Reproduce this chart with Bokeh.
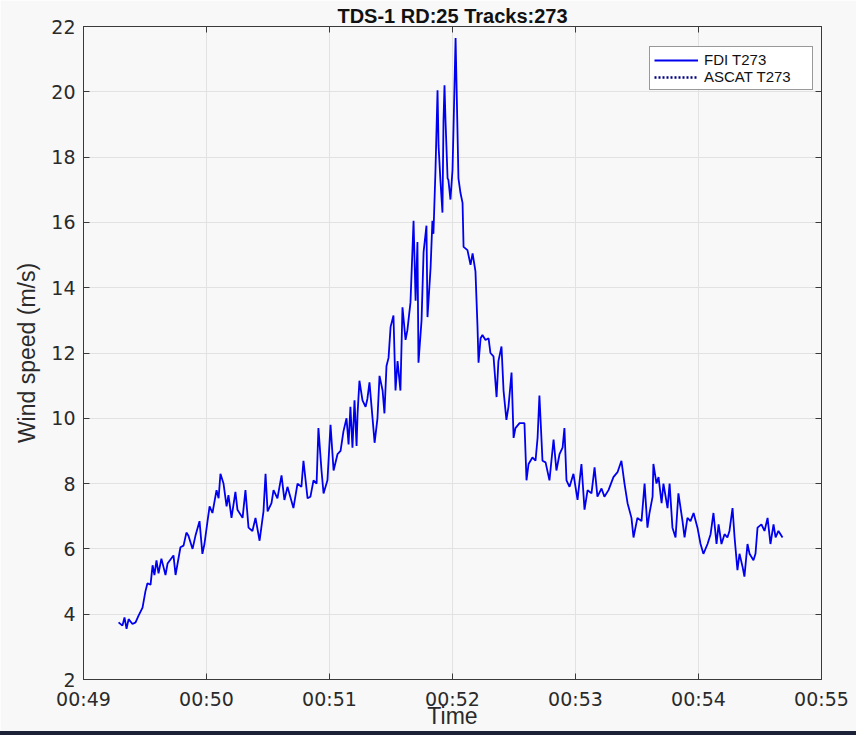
from bokeh.plotting import figure
from bokeh.models import (ColumnDataSource, Legend, LegendItem, LinearAxis,
                          FixedTicker, Range1d, Div)
from bokeh.layouts import column
from bokeh.embed import file_html
from bokeh.resources import INLINE

# ---- data (seconds after 00:49:00, wind speed m/s) ----
time_s = [17.1, 19.0, 20.0, 21.0, 22.0, 23.9, 25.4, 26.8, 28.8, 30.2,
          31.2, 32.7, 33.7, 34.6, 35.6, 36.6, 38.0, 39.0, 40.0, 41.0,
          43.9, 44.9, 47.3, 48.8, 50.2, 51.2, 53.2, 54.6, 56.6, 58.0,
          59.0, 60.5, 61.5, 62.9, 64.9, 65.9, 66.8, 68.3, 69.8, 70.7,
          72.2, 74.1, 75.1, 77.6, 79.0, 80.5, 82.4, 83.9, 85.9, 87.8,
          88.8, 89.8, 91.7, 92.7, 94.6, 96.6, 98.0, 99.5, 102.4, 104.4,
          106.3, 107.3, 109.3, 110.7, 112.2, 113.7, 114.6, 116.1, 117.1, 119.0,
          120.5, 122.0, 123.9, 125.4, 126.8, 128.3, 129.3, 130.2, 131.2, 132.2,
          133.2, 133.7, 134.6, 136.1, 137.6, 138.5, 139.5, 141.0, 142.0, 143.4,
          144.4, 145.9, 146.8, 147.8, 148.8, 149.8, 151.2, 152.2, 153.2, 154.6,
          155.6, 157.1, 158.0, 159.5, 161.0, 162.0, 162.9, 163.4, 164.9, 165.9,
          167.3, 167.8, 169.3, 170.2, 170.7, 171.7, 172.7, 173.2, 174.1, 175.1,
          175.6, 176.1, 176.6, 177.6, 178.0, 179.0, 180.0, 180.5, 181.5, 182.4,
          182.9, 183.9, 184.9, 185.4, 187.3, 188.8, 189.8, 191.2, 192.2, 192.7,
          193.7, 194.6, 196.1, 197.6, 198.5, 200.0, 201.5, 202.4, 203.9, 204.9,
          206.3, 207.3, 208.8, 209.8, 210.7, 212.7, 215.1, 216.1, 217.1, 219.0,
          220.5, 221.5, 222.4, 223.9, 225.4, 227.3, 229.3, 230.7, 232.2, 233.7,
          234.6, 235.6, 237.1, 239.0, 241.0, 242.9, 244.4, 245.9, 247.8, 249.3,
          250.7, 252.7, 254.1, 256.1, 258.5, 260.5, 262.4, 263.9, 265.4, 267.3,
          268.3, 270.2, 272.2, 273.7, 275.1, 276.1, 277.6, 278.0, 279.5, 280.5,
          282.0, 282.9, 284.9, 285.9, 287.3, 288.8, 290.2, 292.2, 293.2, 294.6,
          296.1, 297.6, 299.5, 301.0, 302.4, 304.4, 305.9, 307.3, 308.8, 309.8,
          311.2, 312.7, 314.1, 315.1, 316.6, 317.6, 319.0, 320.0, 321.5, 322.4,
          323.9, 324.9, 326.8, 327.8, 328.8, 330.7, 332.2, 333.7, 335.1, 336.6,
          337.6, 339.0, 341.0]

fdi_speed = [3.75, 3.65, 3.9, 3.55, 3.85, 3.7, 3.75, 3.95, 4.2, 4.7,
             4.95, 4.9, 5.5, 5.2, 5.65, 5.25, 5.7, 5.45, 5.2, 5.55,
             5.8, 5.2, 6.05, 6.1, 6.5, 6.4, 6.0, 6.4, 6.85, 5.85,
             6.15, 6.85, 7.3, 7.1, 7.8, 7.55, 8.3, 8.0, 7.3, 7.65,
             6.95, 7.75, 7.2, 6.95, 7.8, 6.65, 6.55, 6.95, 6.25, 7.15,
             8.3, 7.15, 7.4, 7.8, 7.55, 8.25, 7.5, 7.9, 7.25, 8.0,
             7.9, 8.7, 7.55, 7.6, 8.1, 8.0, 9.7, 8.4, 7.7, 8.1,
             9.8, 8.4, 8.9, 9.0, 9.6, 10.0, 9.2, 10.35, 9.1, 10.55,
             9.15, 10.15, 11.15, 10.55, 10.35, 10.6, 11.1, 10.0, 9.25, 10.0,
             11.3, 10.85, 10.15, 11.6, 11.85, 12.8, 13.15, 10.85, 11.75, 10.85,
             13.4, 12.4, 12.7, 13.55, 16.05, 13.6, 15.4, 11.7, 13.0, 15.1,
             15.9, 13.1, 14.6, 16.05, 15.65, 17.6, 20.05, 18.35, 17.3, 16.3,
             19.1, 20.2, 19.1, 17.35, 17.3, 16.7, 17.6, 18.9, 21.65, 18.9,
             17.35, 16.9, 16.6, 15.25, 15.15, 14.7, 15.05, 14.5, 12.8, 11.7,
             12.45, 12.55, 12.4, 12.45, 12.0, 11.9, 10.65, 11.75, 12.2, 10.85,
             9.95, 10.35, 11.4, 9.4, 9.7, 9.85, 9.85, 8.1, 8.6, 8.8,
             8.7, 9.4, 10.7, 8.7, 8.65, 8.1, 9.35, 8.4, 8.9, 9.1,
             9.7, 8.1, 7.9, 8.3, 7.5, 8.6, 7.2, 7.8, 7.7, 8.5,
             7.6, 7.85, 7.6, 7.8, 8.2, 8.35, 8.7, 8.0, 7.4, 6.95,
             6.35, 6.95, 6.85, 8.0, 6.65, 7.1, 7.6, 8.6, 8.0, 8.2,
             7.4, 8.0, 7.25, 8.0, 6.65, 6.35, 7.7, 6.85, 6.35, 6.95,
             6.85, 7.1, 6.65, 6.15, 5.85, 6.15, 6.45, 7.1, 6.15, 6.75,
             6.15, 6.45, 6.35, 6.55, 7.25, 6.35, 5.35, 5.85, 5.45, 5.15,
             6.15, 5.85, 5.65, 5.85, 6.65, 6.75, 6.55, 6.95, 6.15, 6.75,
             6.35, 6.55, 6.35]

# ASCAT series has no samples visible in this window
ascat_time = [float("nan")]
ascat_speed = [float("nan")]

x_ticks = [0, 60, 120, 180, 240, 300, 360]
x_tick_labels = ["00:49", "00:50", "00:51", "00:52", "00:53", "00:54", "00:55"]
y_ticks = [2, 4, 6, 8, 10, 12, 14, 16, 18, 20, 22]

title_text = "TDS-1 RD:25 Tracks:273"
series_labels = ["FDI T273", "ASCAT T273"]

BG = "#f8f8f8"
AX = "#3a3a3a"
TICK_FONT = "DejaVu Sans"
LABEL_FONT = "Liberation Sans"

p = figure(width=856, height=731, x_range=Range1d(0, 360), y_range=Range1d(2, 22),
           output_backend="svg", toolbar_location=None,
           min_border_left=83, min_border_right=35, min_border_top=26,
           min_border_bottom=52, background_fill_color=BG, border_fill_color=BG,
           outline_line_color=AX, outline_line_width=1)

p.title.text = title_text
p.title.align = "center"
p.title.text_font = LABEL_FONT
p.title.text_font_size = "20px"
p.title.text_font_style = "bold"
p.title.text_color = "#111111"
p.title.standoff = 0
p.title.offset = 0

def style_axis(ax, show_labels=True):
    ax.major_tick_in = 6
    ax.major_tick_out = 0
    ax.minor_tick_line_color = None
    ax.axis_line_color = AX
    ax.major_tick_line_color = AX
    if show_labels:
        ax.major_label_text_font = TICK_FONT
        ax.major_label_text_font_size = "19px"
        ax.major_label_text_color = "#2a2a2a"
        ax.major_label_standoff = 7
    else:
        ax.major_label_text_font_size = "1px"
        ax.major_label_text_color = None
        ax.major_label_standoff = 0

xax = p.xaxis[0]
xax.ticker = FixedTicker(ticks=x_ticks)
xax.major_label_overrides = {t: l for t, l in zip(x_ticks, x_tick_labels)}
style_axis(xax)
xax.major_label_standoff = 8
xax.axis_label = "Time"
xax.axis_label_text_font = LABEL_FONT
xax.axis_label_text_font_size = "23px"
xax.axis_label_text_font_style = "normal"
xax.axis_label_text_color = "#2a2a2a"
xax.axis_label_standoff = -10

yax = p.yaxis[0]
yax.ticker = FixedTicker(ticks=y_ticks)
style_axis(yax)
yax.major_label_standoff = 8
yax.axis_label = "Wind speed (m/s)"
yax.axis_label_text_font = LABEL_FONT
yax.axis_label_text_font_size = "23px"
yax.axis_label_text_font_style = "normal"
yax.axis_label_text_color = "#2a2a2a"
yax.axis_label_standoff = 8

top = LinearAxis(ticker=FixedTicker(ticks=x_ticks))
style_axis(top, show_labels=False)
p.add_layout(top, "above")
right = LinearAxis(ticker=FixedTicker(ticks=y_ticks))
style_axis(right, show_labels=False)
p.add_layout(right, "right")

p.xgrid.ticker = FixedTicker(ticks=x_ticks)
p.ygrid.ticker = FixedTicker(ticks=y_ticks)
p.grid.grid_line_color = "#e2e2e2"
p.grid.grid_line_width = 1

src = ColumnDataSource(dict(t=time_s, v=fdi_speed))
r1 = p.line(x="t", y="v", source=src, line_color="#0000ee", line_width=1.8)
src2 = ColumnDataSource(dict(t=ascat_time, v=ascat_speed))
r2 = p.line(x="t", y="v", source=src2, line_color="#000080", line_width=2.5,
            line_dash="2 2")

legend = Legend(items=[LegendItem(label=series_labels[0], renderers=[r1], index=0),
                       LegendItem(label=series_labels[1], renderers=[r2], index=0)],
                location=(566, 589))
legend.label_text_font = LABEL_FONT
legend.label_text_font_size = "15px"
legend.label_text_color = "#111111"
legend.glyph_width = 44
legend.glyph_height = 16
legend.label_height = 16
legend.label_width = 104
legend.label_standoff = 6
legend.padding = 4
legend.spacing = 0
legend.margin = 0
legend.border_line_color = "#333333"
legend.border_line_width = 1
legend.background_fill_color = "#ffffff"
legend.background_fill_alpha = 1
p.add_layout(legend)

band = Div(text="", width=856, height=4,
           styles={"background-color": "#1b2238", "margin": "0"})

open("out.html", "w").write(file_html(column(p, band, spacing=0), INLINE))
